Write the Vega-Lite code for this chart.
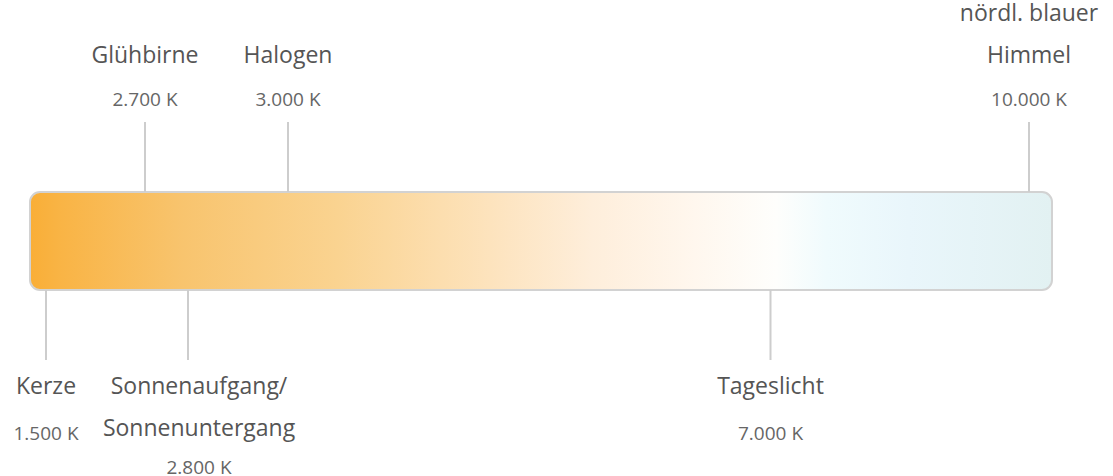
{
  "$schema": "https://vega.github.io/schema/vega-lite/v6.json",
  "width": 1022,
  "height": 98,
  "autosize": {"type": "none"},
  "padding": {"left": 30, "top": 192, "right": 61, "bottom": 186},
  "background": "#ffffff",
  "config": {"view": {"stroke": null}, "font": "Open Sans"},
  "data": {
    "values": [
      {"name": "Kerze", "kelvin": 1500, "seite": "unten"},
      {"name": "Glühbirne", "kelvin": 2700, "seite": "oben"},
      {"name": "Sonnenaufgang/\nSonnenuntergang", "kelvin": 2800, "seite": "unten"},
      {"name": "Halogen", "kelvin": 3000, "seite": "oben"},
      {"name": "Tageslicht", "kelvin": 7000, "seite": "unten"},
      {"name": "nördl. blauer\nHimmel", "kelvin": 10000, "seite": "oben"}
    ]
  },
  "transform": [
    {"calculate": "replace(format(datum.kelvin, ','), ',', '.') + ' K'", "as": "wert"},
    {"calculate": "indexof(datum.name, '\\n') >= 0", "as": "zweizeilig"},
    {"calculate": "datum.zweizeilig ? datum.name : '\u00a0\\n' + datum.name", "as": "name_oben"}
  ],
  "layer": [
    {
      "data": {"values": [{"skala": "Farbtemperatur"}]},
      "transform": [],
      "mark": {
        "type": "rect",
        "cornerRadius": 10,
        "stroke": "#d2d2d2",
        "strokeWidth": 2,
        "fill": {
          "gradient": "linear",
          "x1": 0, "x2": 1, "y1": 0, "y2": 0,
          "stops": [
            {"offset": 0, "color": "#f9ae37"},
            {"offset": 0.03, "color": "#f9b445"},
            {"offset": 0.15, "color": "#f8c46e"},
            {"offset": 0.3, "color": "#fad390"},
            {"offset": 0.45, "color": "#fde3bd"},
            {"offset": 0.55, "color": "#feeedb"},
            {"offset": 0.65, "color": "#fff7ee"},
            {"offset": 0.73, "color": "#fefefc"},
            {"offset": 0.78, "color": "#f0fbfd"},
            {"offset": 0.86, "color": "#e9f6fb"},
            {"offset": 1, "color": "#e2f1f2"}
          ]
        }
      },
      "encoding": {}
    },
    {
      "transform": [{"filter": "datum.seite == 'oben'"}],
      "mark": {"type": "rule", "color": "#cdcdcd", "strokeWidth": 2, "y2Offset": -70},
      "encoding": {
        "x": {"field": "kelvin", "type": "quantitative", "axis": null,
              "scale": {"domain": [1500, 2700, 2800, 3000, 7000, 10000], "range": [16, 115, 158, 258, 740.5, 999], "nice": false, "zero": false}},
        "y": {"field": "seite", "type": "nominal", "axis": null,
              "scale": {"type": "point", "domain": ["oben", "unten"], "padding": 0}},
        "y2": {"field": "seite"}
      }
    },
    {
      "transform": [{"filter": "datum.seite == 'unten'"}],
      "mark": {"type": "rule", "color": "#cdcdcd", "strokeWidth": 2, "y2Offset": 70},
      "encoding": {
        "x": {"field": "kelvin", "type": "quantitative", "axis": null},
        "y": {"field": "seite", "type": "nominal", "axis": null},
        "y2": {"field": "seite"}
      }
    },
    {
      "transform": [{"filter": "datum.seite == 'oben'"}],
      "mark": {"type": "text", "align": "center", "baseline": "alphabetic", "dy": -171, "fontSize": 23, "lineHeight": 42, "lineBreak": "\n", "color": "#555555"},
      "encoding": {
        "x": {"field": "kelvin", "type": "quantitative", "axis": null},
        "y": {"field": "seite", "type": "nominal", "axis": null},
        "text": {"field": "name_oben", "type": "nominal"}
      }
    },
    {
      "transform": [{"filter": "datum.seite == 'oben'"}],
      "mark": {"type": "text", "align": "center", "baseline": "alphabetic", "dy": -86, "fontSize": 19, "color": "#666666"},
      "encoding": {
        "x": {"field": "kelvin", "type": "quantitative", "axis": null},
        "y": {"field": "seite", "type": "nominal", "axis": null},
        "text": {"field": "wert", "type": "nominal"}
      }
    },
    {
      "transform": [{"filter": "datum.seite == 'unten' && !datum.zweizeilig"}],
      "mark": {"type": "text", "align": "center", "baseline": "alphabetic", "dy": 104, "fontSize": 23, "lineHeight": 42, "lineBreak": "\n", "color": "#555555"},
      "encoding": {
        "x": {"field": "kelvin", "type": "quantitative", "axis": null},
        "y": {"field": "seite", "type": "nominal", "axis": null},
        "text": {"field": "name", "type": "nominal"}
      }
    },
    {
      "transform": [{"filter": "datum.seite == 'unten' && datum.zweizeilig"}],
      "mark": {"type": "text", "align": "center", "baseline": "alphabetic", "dy": 104, "dx": 11, "fontSize": 23, "lineHeight": 42, "lineBreak": "\n", "color": "#555555"},
      "encoding": {
        "x": {"field": "kelvin", "type": "quantitative", "axis": null},
        "y": {"field": "seite", "type": "nominal", "axis": null},
        "text": {"field": "name", "type": "nominal"}
      }
    },
    {
      "transform": [{"filter": "datum.seite == 'unten' && !datum.zweizeilig"}],
      "mark": {"type": "text", "align": "center", "baseline": "alphabetic", "dy": 150, "fontSize": 19, "color": "#666666"},
      "encoding": {
        "x": {"field": "kelvin", "type": "quantitative", "axis": null},
        "y": {"field": "seite", "type": "nominal", "axis": null},
        "text": {"field": "wert", "type": "nominal"}
      }
    },
    {
      "transform": [{"filter": "datum.seite == 'unten' && datum.zweizeilig"}],
      "mark": {"type": "text", "align": "center", "baseline": "alphabetic", "dy": 184, "dx": 11, "fontSize": 19, "color": "#666666"},
      "encoding": {
        "x": {"field": "kelvin", "type": "quantitative", "axis": null},
        "y": {"field": "seite", "type": "nominal", "axis": null},
        "text": {"field": "wert", "type": "nominal"}
      }
    }
  ]
}
